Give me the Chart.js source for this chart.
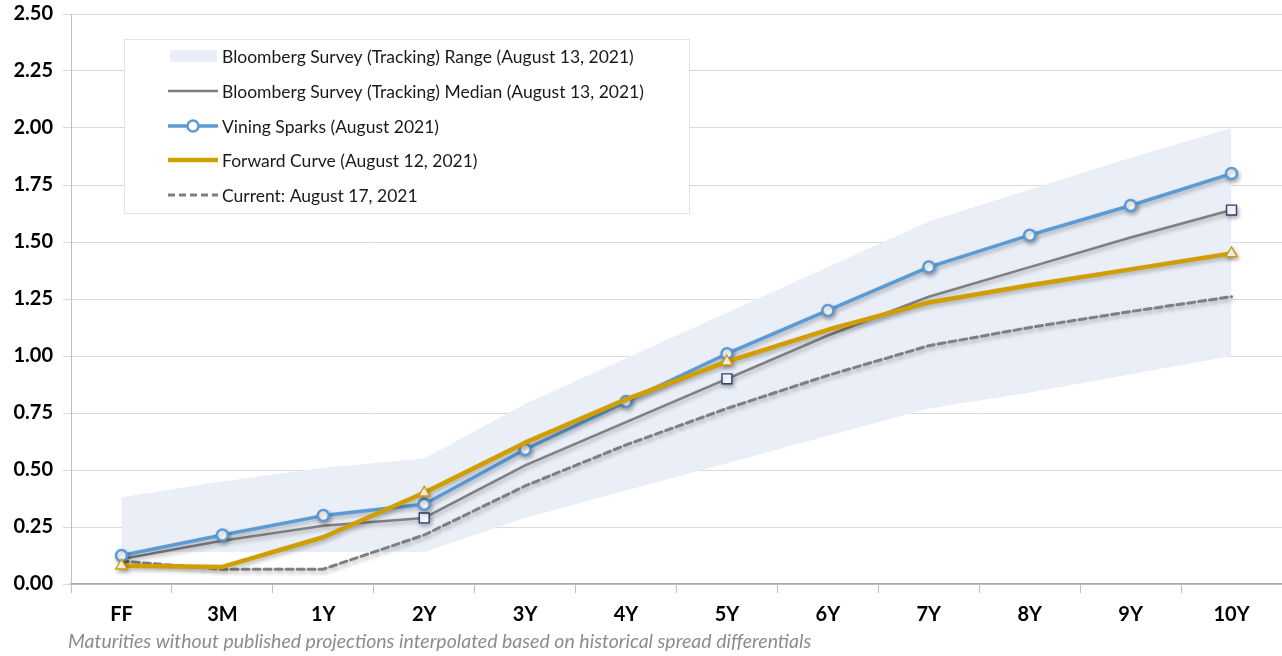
<!DOCTYPE html>
<html>
<head>
<meta charset="utf-8">
<script src="https://cdn.jsdelivr.net/npm/chart.js@4.4.0/dist/chart.umd.min.js"></script>
<style>
  html, body { margin: 0; padding: 0; background: #ffffff; overflow: hidden; }
  #wrap { width: 1282px; height: 656px; position: relative; }
  canvas { display: block; }
</style>
</head>
<body>
<div id="wrap"><canvas id="c"></canvas></div>
<script>
// ---- data ----
const categories = ['FF','3M','1Y','2Y','3Y','4Y','5Y','6Y','7Y','8Y','9Y','10Y'];
const rangeLow  = [0.14, 0.14, 0.14, 0.14, 0.29, 0.41, 0.53, 0.65, 0.77, 0.84, 0.92, 1.00];
const rangeHigh = [0.38, 0.45, 0.51, 0.55, 0.79, 0.99, 1.19, 1.39, 1.59, 1.73, 1.87, 2.00];
const median    = [0.11, 0.19, 0.255, 0.29, 0.52, 0.71, 0.90, 1.09, 1.26, 1.39, 1.52, 1.64];
const vining    = [0.125, 0.215, 0.30, 0.35, 0.59, 0.80, 1.01, 1.20, 1.39, 1.53, 1.66, 1.80];
const forward   = [0.08, 0.075, 0.205, 0.40, 0.62, 0.81, 0.975, 1.115, 1.235, 1.31, 1.38, 1.45];
const current   = [0.10, 0.065, 0.065, 0.215, 0.43, 0.61, 0.77, 0.915, 1.045, 1.125, 1.195, 1.26];
const yTicks    = [0, 0.25, 0.5, 0.75, 1.0, 1.25, 1.5, 1.75, 2.0, 2.25, 2.5];
const medianMarkers  = ['2Y','5Y','10Y'];
const forwardMarkers = ['FF','2Y','5Y','10Y'];
const legendLabels = [
  'Bloomberg Survey (Tracking) Range (August 13, 2021)',
  'Bloomberg Survey (Tracking) Median (August 13, 2021)',
  'Vining Sparks (August 2021)',
  'Forward Curve (August 12, 2021)',
  'Current: August 17, 2021'
];
const footnote = 'Maturities without published projections interpolated based on historical spread differentials';

// ---- styles ----
const BAND = '#e9eef7';
const BLUE = '#5b9bd5';
const GOLD = '#d09e00';
const GRAY = '#7f7f7f';
const NAVY = '#2e4272';

const shadowPlugin = {
  id: 'shadow',
  beforeDatasetDraw(chart, args) {
    const ds = chart.data.datasets[args.index];
    if (!ds._shadow) return;
    const ctx = chart.ctx;
    ctx.save();
    ctx.shadowColor = 'rgba(0,0,0,0.28)';
    ctx.shadowBlur = 4;
    ctx.shadowOffsetX = 1.5;
    ctx.shadowOffsetY = 2.5;
  },
  afterDatasetDraw(chart, args) {
    const ds = chart.data.datasets[args.index];
    if (!ds._shadow) return;
    chart.ctx.restore();
  }
};

const legendPlugin = {
  id: 'boxLegend',
  afterDraw(chart) {
    const ctx = chart.ctx;
    ctx.save();
    const bx = 124, by = 39, bw = 565, bh = 174;
    ctx.fillStyle = '#ffffff';
    ctx.fillRect(bx, by, bw, bh);
    ctx.strokeStyle = '#e3e3e3';
    ctx.lineWidth = 1;
    ctx.strokeRect(bx + 0.5, by + 0.5, bw, bh);
    const ys = [56, 91, 126, 160, 195];
    const x0 = 168, x1 = 218, tx = 222;
    ctx.font = '17.5px Lato';
    ctx.textBaseline = 'middle';
    ctx.fillStyle = '#1a1a1a';
    legendLabels.forEach((t, i) => {
      const y = ys[i];
      ctx.save();
      if (i === 0) {
        ctx.fillStyle = BAND;
        ctx.fillRect(170, y - 6, 47, 12);
      } else if (i === 1) {
        ctx.strokeStyle = GRAY; ctx.lineWidth = 2.5;
        ctx.beginPath(); ctx.moveTo(x0, y); ctx.lineTo(x1, y); ctx.stroke();
      } else if (i === 2) {
        ctx.strokeStyle = BLUE; ctx.lineWidth = 3.5;
        ctx.beginPath(); ctx.moveTo(x0, y); ctx.lineTo(x1, y); ctx.stroke();
        ctx.fillStyle = '#fff'; ctx.lineWidth = 2.5;
        ctx.beginPath(); ctx.arc(193, y, 5.5, 0, Math.PI * 2); ctx.fill(); ctx.stroke();
      } else if (i === 3) {
        ctx.strokeStyle = GOLD; ctx.lineWidth = 4.5;
        ctx.beginPath(); ctx.moveTo(x0, y); ctx.lineTo(x1, y); ctx.stroke();
      } else {
        ctx.strokeStyle = GRAY; ctx.lineWidth = 3; ctx.setLineDash([7, 4]);
        ctx.beginPath(); ctx.moveTo(x0, y); ctx.lineTo(x1, y); ctx.stroke();
      }
      ctx.restore();
      ctx.fillText(t, tx, y + 1);
    });
    ctx.font = 'italic 19.5px Lato';
    ctx.fillStyle = '#8c8c8c';
    ctx.textBaseline = 'middle';
    ctx.fillText(footnote, 68, 642);
    ctx.restore();
  }
};

function markerRadii(list, r) {
  return categories.map(c => list.includes(c) ? r : 0);
}

new Chart(document.getElementById('c'), {
  type: 'line',
  data: {
    labels: categories,
    datasets: [
      { label: 'Range low', data: rangeLow, borderWidth: 0, pointRadius: 0, fill: false, order: 10, borderColor: 'rgba(0,0,0,0)', tension: 0 },
      { label: legendLabels[0], data: rangeHigh, borderWidth: 0, pointRadius: 0, fill: '-1', backgroundColor: BAND, borderColor: 'rgba(0,0,0,0)', order: 9, tension: 0 },
      { label: legendLabels[4], data: current, borderColor: GRAY, borderWidth: 3, borderDash: [7, 4], pointRadius: 0, fill: false, order: 5, _shadow: true },
      { label: legendLabels[1], data: median, borderColor: GRAY, borderWidth: 2.5, fill: false, order: 4, _shadow: true,
        pointStyle: 'rect', pointRadius: markerRadii(medianMarkers, 7), pointBackgroundColor: '#ffffff', pointBorderColor: NAVY, pointBorderWidth: 1.4 },
      { label: legendLabels[2], data: vining, borderColor: BLUE, borderWidth: 3.5, fill: false, order: 3, _shadow: true,
        pointStyle: 'circle', pointRadius: 5.5, pointBackgroundColor: '#ffffff', pointBorderColor: BLUE, pointBorderWidth: 2.5 },
      { label: legendLabels[3], data: forward, borderColor: GOLD, borderWidth: 4.5, fill: false, order: 2, _shadow: true,
        pointStyle: 'triangle', pointRadius: markerRadii(forwardMarkers, 6.5), pointBackgroundColor: '#ffffff', pointBorderColor: GOLD, pointBorderWidth: 1.4 }
    ]
  },
  options: {
    responsive: true,
    maintainAspectRatio: false,
    animation: false,
    layout: { autoPadding: false, padding: { top: 14, right: 0, bottom: 20, left: 0 } },
    plugins: { legend: { display: false }, tooltip: { enabled: false }, title: { display: false } },
    elements: { line: { tension: 0, borderJoinStyle: 'round', borderCapStyle: 'round' } },
    scales: {
      x: {
        type: 'category',
        offset: true,
        grid: { display: true, drawOnChartArea: false, drawTicks: true, tickLength: 9, color: '#bfbfbf', offset: true },
        border: { display: true, color: '#a6a6a6', width: 1.5 },
        ticks: { color: '#000', font: { family: 'Lato', weight: 'bold', size: 20 }, padding: 10, maxRotation: 0, autoSkip: false },
        afterFit(s) { s.height = 52; s.paddingLeft = 0; s.paddingRight = 0; }
      },
      y: {
        min: 0, max: 2.5,
        afterBuildTicks(s) { s.ticks = yTicks.map(v => ({ value: v })); },
        grid: { color: '#d9d9d9', lineWidth: 1, tickLength: 8, drawTicks: true },
        border: { display: true, color: '#bfbfbf', width: 1 },
        ticks: { color: '#000', font: { family: 'Lato', weight: 'bold', size: 20 }, padding: 10, callback: v => Number(v).toFixed(2) },
        afterFit(s) { s.width = 71; s.paddingTop = 0; s.paddingBottom = 0; }
      }
    }
  },
  plugins: [shadowPlugin, legendPlugin]
});
</script>
</body>
</html>
